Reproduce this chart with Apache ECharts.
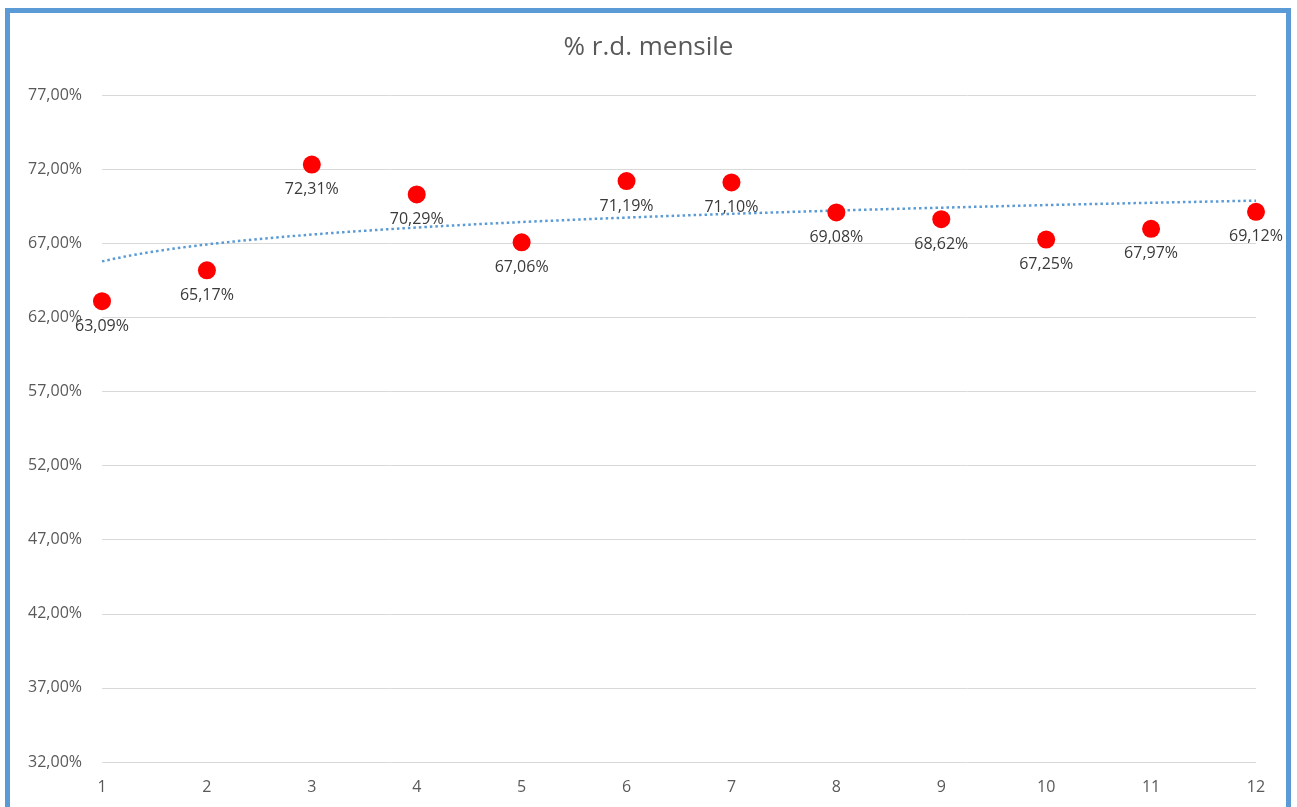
<!DOCTYPE html>
<html>
<head>
<meta charset="utf-8">
<title>% r.d. mensile</title>
<script src="https://cdn.jsdelivr.net/npm/echarts@6/dist/echarts.min.js"></script>
<style>
  html, body { margin: 0; padding: 0; background: #ffffff; overflow: hidden; }
  #frame {
    position: absolute; left: 5px; top: 8px; width: 1276px; height: 820px;
    border: 5px solid #5B9BD5; box-sizing: content-box;
  }
  #chart { position: absolute; left: 0; top: 0; width: 1297px; height: 807px; }
</style>
</head>
<body>
<div id="frame"></div>
<div id="chart"></div>
<script>
// Monthly values (month number -> percentage)
const months = [1, 2, 3, 4, 5, 6, 7, 8, 9, 10, 11, 12];
const monthlyPct = [63.09, 65.17, 72.31, 70.29, 67.06, 71.19, 71.10, 69.08, 68.62, 67.25, 67.97, 69.12];
const yTicks = [32, 37, 42, 47, 52, 57, 62, 67, 72, 77];

const fmt = v => v.toFixed(2).replace('.', ',') + '%';

// Logarithmic least-squares trend: y = a + b * ln(x)
function logTrend(xs, ys) {
  const lx = xs.map(Math.log);
  const n = xs.length;
  const mx = lx.reduce((s, v) => s + v, 0) / n;
  const my = ys.reduce((s, v) => s + v, 0) / n;
  let sxy = 0, sxx = 0;
  for (let i = 0; i < n; i++) {
    sxy += (lx[i] - mx) * (ys[i] - my);
    sxx += (lx[i] - mx) * (lx[i] - mx);
  }
  const b = sxy / sxx;
  const a = my - b * mx;
  const pts = [];
  for (let x = xs[0]; x <= xs[n - 1] + 1e-9; x += 0.05) {
    pts.push([x, a + b * Math.log(x)]);
  }
  return pts;
}

const points = months.map((m, i) => [m, monthlyPct[i]]);
const trend = logTrend(months, monthlyPct);

const chart = echarts.init(document.getElementById('chart'), null, { renderer: 'canvas' });
const font = '"Open Sans", "Liberation Sans", sans-serif';

chart.setOption({
  animation: false,
  backgroundColor: 'transparent',
  textStyle: { fontFamily: font },
  title: {
    text: '% r.d. mensile',
    left: 'center',
    top: 30,
    textStyle: { fontFamily: font, fontSize: 26, fontWeight: 'normal', color: '#595959' }
  },
  grid: { left: 102, right: 41, top: 95, bottom: 45, containLabel: false },
  xAxis: {
    type: 'value',
    min: 1, max: 12, interval: 1,
    axisLine: { show: false },
    axisTick: { show: false },
    splitLine: { show: false },
    axisLabel: { color: '#595959', fontSize: 16, margin: 17, fontFamily: font }
  },
  yAxis: {
    type: 'value',
    min: yTicks[0], max: yTicks[yTicks.length - 1], interval: 5,
    axisLine: { show: false },
    axisTick: { show: false },
    splitLine: { lineStyle: { color: '#D9D9D9', width: 1 } },
    axisLabel: { color: '#595959', fontSize: 16, margin: 20, fontFamily: font, formatter: fmt }
  },
  series: [
    {
      type: 'line',
      data: trend,
      showSymbol: false,
      smooth: false,
      lineStyle: { color: '#5B9BD5', width: 2.5, type: [2.5, 3] },
      z: 1,
      silent: true
    },
    {
      type: 'scatter',
      data: points,
      symbol: 'circle',
      symbolSize: 18,
      itemStyle: { color: '#FF0000', opacity: 1 },
      z: 3,
      label: {
        show: true,
        position: 'bottom',
        distance: 8,
        color: '#3A3A3A',
        fontSize: 16,
        fontFamily: font,
        formatter: p => fmt(p.value[1])
      }
    }
  ]
});
</script>
</body>
</html>
